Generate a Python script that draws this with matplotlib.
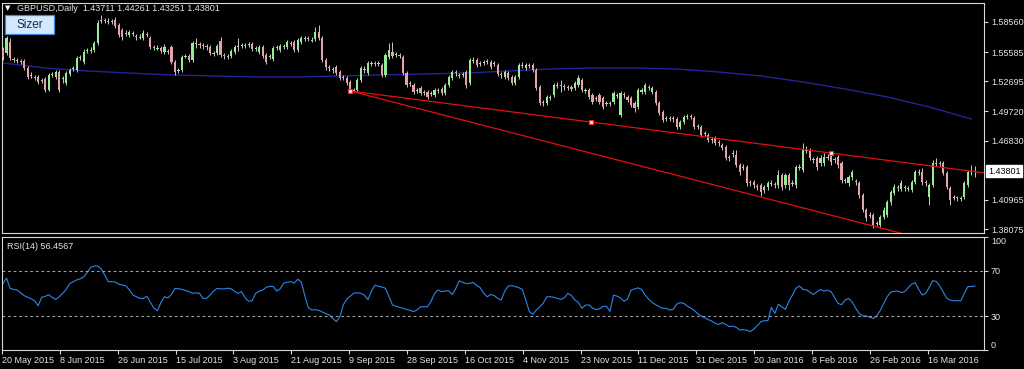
import numpy as np
import matplotlib
matplotlib.use('Agg')
import matplotlib.pyplot as plt
from matplotlib.transforms import blended_transform_factory
from matplotlib.patches import Rectangle

plt.rcParams['font.family'] = ['Liberation Sans', 'DejaVu Sans']

# ---------------- data (GBPUSD daily) ----------------
opens = [
1.5579,1.5549,1.5658,1.5490,1.5480,1.5470,1.5470,1.5401,1.5322,1.5312,
1.5312,1.5272,1.5292,1.5183,1.5332,1.5312,1.5361,1.5292,1.5252,1.5341,
1.5391,1.5381,1.5500,1.5460,1.5569,1.5569,1.5579,1.5648,1.5866,1.5876,
1.5856,1.5866,1.5876,1.5827,1.5777,1.5737,1.5728,1.5747,1.5718,1.5698,
1.5698,1.5737,1.5698,1.5609,1.5589,1.5599,1.5559,1.5569,1.5609,1.5460,
1.5371,1.5381,1.5510,1.5520,1.5480,1.5638,1.5638,1.5629,1.5619,1.5609,
1.5549,1.5549,1.5668,1.5530,1.5520,1.5520,1.5559,1.5609,1.5619,1.5629,
1.5629,1.5638,1.5589,1.5559,1.5609,1.5530,1.5510,1.5490,1.5599,1.5579,
1.5619,1.5609,1.5648,1.5658,1.5579,1.5658,1.5688,1.5698,1.5668,1.5688,
1.5757,1.5698,1.5480,1.5411,1.5391,1.5411,1.5361,1.5302,1.5302,1.5262,
1.5173,1.5183,1.5282,1.5391,1.5351,1.5440,1.5450,1.5440,1.5431,1.5332,
1.5510,1.5559,1.5530,1.5530,1.5510,1.5351,1.5242,1.5233,1.5173,1.5203,
1.5153,1.5163,1.5143,1.5134,1.5183,1.5193,1.5153,1.5233,1.5302,1.5361,
1.5332,1.5332,1.5361,1.5252,1.5470,1.5480,1.5440,1.5450,1.5460,1.5460,
1.5440,1.5431,1.5341,1.5312,1.5351,1.5312,1.5252,1.5312,1.5421,1.5401,
1.5431,1.5431,1.5381,1.5213,1.5064,1.5054,1.5104,1.5134,1.5223,1.5233,
1.5223,1.5213,1.5213,1.5203,1.5233,1.5282,1.5173,1.5183,1.5134,1.5094,
1.5134,1.5104,1.5044,1.5054,1.5064,1.5124,1.4936,1.5143,1.5114,1.5104,
1.5054,1.5015,1.5163,1.5163,1.5213,1.5163,1.5163,1.5054,1.4965,1.4896,
1.4906,1.4906,1.4896,1.4817,1.4866,1.4916,1.4926,1.4906,1.4817,1.4817,
1.4747,1.4738,1.4698,1.4708,1.4668,1.4639,1.4619,1.4520,1.4549,1.4540,
1.4441,1.4411,1.4421,1.4272,1.4272,1.4233,1.4243,1.4193,1.4223,1.4252,
1.4252,1.4243,1.4342,1.4243,1.4342,1.4252,1.4243,1.4411,1.4391,1.4579,
1.4589,1.4500,1.4510,1.4460,1.4460,1.4510,1.4540,1.4500,1.4520,1.4460,
1.4282,1.4262,1.4322,1.4282,1.4262,1.4144,1.3995,1.3936,1.3946,1.3856,
1.3847,1.3926,1.3946,1.4074,1.4163,1.4223,1.4203,1.4223,1.4203,1.4193,
1.4272,1.4361,1.4371,1.4272,1.4124,1.4243,1.4450,1.4460,1.4460,1.4361,
1.4213,1.4114,1.4124,1.4104,1.4124,1.4243,1.4381,1.43711]

highs = [
1.5609,1.5718,1.5698,1.5510,1.5500,1.5490,1.5490,1.5421,1.5361,1.5332,
1.5332,1.5302,1.5312,1.5351,1.5361,1.5381,1.5381,1.5322,1.5371,1.5401,
1.5421,1.5520,1.5530,1.5589,1.5599,1.5609,1.5668,1.5876,1.5926,1.5896,
1.5896,1.5886,1.5906,1.5846,1.5797,1.5777,1.5777,1.5767,1.5737,1.5737,
1.5777,1.5757,1.5718,1.5629,1.5629,1.5619,1.5638,1.5589,1.5629,1.5480,
1.5401,1.5530,1.5539,1.5539,1.5668,1.5698,1.5658,1.5648,1.5638,1.5629,
1.5569,1.5638,1.5708,1.5549,1.5539,1.5589,1.5629,1.5698,1.5648,1.5648,
1.5658,1.5658,1.5619,1.5629,1.5629,1.5549,1.5539,1.5619,1.5629,1.5638,
1.5638,1.5678,1.5668,1.5678,1.5698,1.5718,1.5718,1.5718,1.5708,1.5807,
1.5827,1.5718,1.5500,1.5431,1.5411,1.5431,1.5381,1.5332,1.5322,1.5282,
1.5203,1.5302,1.5421,1.5421,1.5470,1.5470,1.5470,1.5470,1.5450,1.5549,
1.5648,1.5658,1.5559,1.5549,1.5530,1.5371,1.5272,1.5252,1.5203,1.5223,
1.5183,1.5183,1.5173,1.5203,1.5203,1.5213,1.5252,1.5332,1.5381,1.5381,
1.5351,1.5361,1.5381,1.5500,1.5510,1.5500,1.5470,1.5480,1.5490,1.5480,
1.5470,1.5450,1.5361,1.5381,1.5371,1.5332,1.5332,1.5450,1.5460,1.5450,
1.5450,1.5450,1.5401,1.5233,1.5084,1.5134,1.5134,1.5252,1.5262,1.5282,
1.5242,1.5233,1.5233,1.5272,1.5332,1.5302,1.5203,1.5203,1.5153,1.5124,
1.5153,1.5124,1.5074,1.5074,1.5173,1.5153,1.5173,1.5163,1.5134,1.5124,
1.5074,1.5203,1.5203,1.5252,1.5233,1.5223,1.5183,1.5074,1.4985,1.4926,
1.4926,1.4926,1.4916,1.4886,1.4936,1.4945,1.4945,1.4926,1.4846,1.4837,
1.4777,1.4757,1.4718,1.4728,1.4688,1.4658,1.4639,1.4540,1.4589,1.4589,
1.4460,1.4450,1.4441,1.4292,1.4292,1.4252,1.4262,1.4243,1.4282,1.4292,
1.4272,1.4391,1.4361,1.4361,1.4361,1.4292,1.4441,1.4450,1.4658,1.4629,
1.4609,1.4520,1.4530,1.4540,1.4559,1.4549,1.4559,1.4520,1.4540,1.4480,
1.4312,1.4342,1.4391,1.4302,1.4282,1.4163,1.4015,1.3975,1.3965,1.3886,
1.3946,1.4025,1.4094,1.4193,1.4252,1.4243,1.4292,1.4243,1.4233,1.4292,
1.4391,1.4401,1.4411,1.4292,1.4262,1.4490,1.4510,1.4480,1.4480,1.4381,
1.4233,1.4144,1.4134,1.4134,1.4282,1.4391,1.4441,1.44261]

lows = [
1.5480,1.5530,1.5480,1.5460,1.5450,1.5440,1.5381,1.5292,1.5302,1.5282,
1.5242,1.5252,1.5163,1.5173,1.5312,1.5292,1.5163,1.5252,1.5233,1.5322,
1.5371,1.5361,1.5480,1.5440,1.5549,1.5549,1.5559,1.5629,1.5846,1.5846,
1.5836,1.5836,1.5797,1.5708,1.5678,1.5718,1.5708,1.5718,1.5678,1.5688,
1.5678,1.5708,1.5589,1.5579,1.5579,1.5549,1.5539,1.5539,1.5440,1.5332,
1.5351,1.5361,1.5500,1.5460,1.5460,1.5599,1.5599,1.5589,1.5579,1.5530,
1.5520,1.5530,1.5510,1.5490,1.5490,1.5500,1.5539,1.5569,1.5599,1.5599,
1.5609,1.5569,1.5569,1.5539,1.5500,1.5440,1.5490,1.5470,1.5579,1.5559,
1.5589,1.5589,1.5619,1.5559,1.5559,1.5638,1.5668,1.5668,1.5658,1.5668,
1.5678,1.5460,1.5381,1.5371,1.5351,1.5332,1.5282,1.5282,1.5233,1.5173,
1.5163,1.5163,1.5262,1.5351,1.5332,1.5421,1.5421,1.5421,1.5312,1.5312,
1.5490,1.5500,1.5510,1.5500,1.5332,1.5213,1.5223,1.5143,1.5153,1.5134,
1.5134,1.5094,1.5124,1.5114,1.5153,1.5134,1.5134,1.5213,1.5282,1.5322,
1.5302,1.5312,1.5203,1.5233,1.5450,1.5411,1.5421,1.5431,1.5440,1.5391,
1.5421,1.5322,1.5302,1.5292,1.5282,1.5233,1.5233,1.5292,1.5401,1.5381,
1.5401,1.5361,1.5183,1.5035,1.5025,1.5035,1.5084,1.5114,1.5203,1.5163,
1.5183,1.5183,1.5173,1.5183,1.5213,1.5163,1.5153,1.5094,1.5044,1.5074,
1.5044,1.4995,1.5025,1.5025,1.5044,1.5104,1.4916,1.5104,1.5064,1.5015,
1.4965,1.4995,1.5143,1.5143,1.5183,1.5143,1.5035,1.4936,1.4866,1.4876,
1.4876,1.4866,1.4797,1.4797,1.4846,1.4896,1.4896,1.4797,1.4797,1.4718,
1.4728,1.4668,1.4658,1.4639,1.4629,1.4589,1.4490,1.4480,1.4520,1.4421,
1.4342,1.4391,1.4233,1.4233,1.4213,1.4193,1.4134,1.4163,1.4193,1.4233,
1.4213,1.4213,1.4193,1.4213,1.4193,1.4233,1.4213,1.4391,1.4371,1.4559,
1.4490,1.4460,1.4391,1.4431,1.4431,1.4490,1.4441,1.4460,1.4411,1.4262,
1.4262,1.4233,1.4292,1.4243,1.4114,1.3975,1.3886,1.3916,1.3817,1.3837,
1.3827,1.3906,1.3926,1.4045,1.4144,1.4183,1.4183,1.4183,1.4183,1.4173,
1.4252,1.4342,1.4243,1.4233,1.4045,1.4223,1.4431,1.4431,1.4342,1.4203,
1.4045,1.4094,1.4084,1.4084,1.4104,1.4223,1.4342,1.43251]

closes = [
1.5510,1.5698,1.5500,1.5480,1.5470,1.5460,1.5401,1.5312,1.5332,1.5302,
1.5262,1.5282,1.5183,1.5332,1.5341,1.5361,1.5183,1.5302,1.5351,1.5381,
1.5401,1.5500,1.5510,1.5559,1.5579,1.5579,1.5648,1.5846,1.5876,1.5866,
1.5866,1.5856,1.5817,1.5728,1.5708,1.5747,1.5757,1.5737,1.5708,1.5708,
1.5747,1.5728,1.5609,1.5599,1.5599,1.5569,1.5609,1.5559,1.5460,1.5361,
1.5381,1.5510,1.5520,1.5480,1.5648,1.5648,1.5629,1.5619,1.5609,1.5549,
1.5539,1.5619,1.5530,1.5520,1.5510,1.5569,1.5609,1.5619,1.5629,1.5619,
1.5638,1.5589,1.5599,1.5609,1.5520,1.5460,1.5520,1.5599,1.5609,1.5619,
1.5609,1.5658,1.5638,1.5579,1.5678,1.5698,1.5698,1.5688,1.5678,1.5757,
1.5698,1.5480,1.5411,1.5401,1.5381,1.5351,1.5302,1.5312,1.5252,1.5163,
1.5183,1.5282,1.5401,1.5381,1.5450,1.5450,1.5440,1.5450,1.5332,1.5530,
1.5579,1.5520,1.5539,1.5520,1.5351,1.5233,1.5252,1.5163,1.5183,1.5153,
1.5163,1.5114,1.5153,1.5183,1.5173,1.5153,1.5233,1.5312,1.5361,1.5351,
1.5322,1.5341,1.5233,1.5480,1.5480,1.5431,1.5450,1.5460,1.5470,1.5411,
1.5450,1.5341,1.5332,1.5361,1.5302,1.5252,1.5312,1.5431,1.5431,1.5431,
1.5421,1.5381,1.5203,1.5054,1.5054,1.5114,1.5114,1.5233,1.5233,1.5223,
1.5213,1.5203,1.5193,1.5252,1.5302,1.5183,1.5183,1.5114,1.5064,1.5104,
1.5064,1.5015,1.5054,1.5044,1.5153,1.5134,1.5153,1.5134,1.5084,1.5035,
1.5005,1.5183,1.5183,1.5233,1.5203,1.5203,1.5054,1.4955,1.4886,1.4906,
1.4896,1.4896,1.4817,1.4866,1.4916,1.4926,1.4916,1.4817,1.4827,1.4738,
1.4757,1.4688,1.4688,1.4658,1.4658,1.4609,1.4510,1.4510,1.4559,1.4441,
1.4371,1.4421,1.4262,1.4262,1.4243,1.4223,1.4173,1.4223,1.4262,1.4262,
1.4243,1.4342,1.4223,1.4342,1.4243,1.4262,1.4421,1.4421,1.4589,1.4589,
1.4510,1.4490,1.4421,1.4510,1.4520,1.4520,1.4470,1.4490,1.4441,1.4292,
1.4292,1.4322,1.4371,1.4272,1.4144,1.3995,1.3916,1.3946,1.3847,1.3866,
1.3926,1.3995,1.4074,1.4173,1.4223,1.4213,1.4262,1.4213,1.4213,1.4272,
1.4371,1.4371,1.4272,1.4262,1.4243,1.4460,1.4460,1.4450,1.4361,1.4223,
1.4094,1.4124,1.4114,1.4114,1.4262,1.4371,1.4371,1.43801]

rsi14 = [
58.8,63.5,54.4,53.5,52.9,50.5,48.0,46.5,45.3,43.5,
39.0,46.5,47.3,48.8,46.5,44.6,47.0,50.0,53.5,58.5,
60.3,61.8,62.8,64.5,68.5,73.0,74.1,74.1,71.5,66.0,
60.3,60.3,60.0,58.0,57.4,56.5,53.2,48.5,47.0,45.6,
45.6,47.5,42.0,37.0,34.7,42.0,47.0,46.0,49.0,54.4,
54.0,53.5,52.5,51.6,50.0,50.5,50.0,45.6,45.6,48.5,
52.0,54.3,54.0,53.9,54.6,54.0,51.7,50.0,51.5,46.0,
43.0,43.5,50.0,52.0,52.9,55.3,56.2,56.0,52.0,54.0,
59.0,59.8,60.3,59.0,62.5,60.0,48.0,37.5,35.3,35.6,
35.0,33.5,32.2,30.9,28.0,25.0,29.4,40.0,45.0,47.5,
50.3,50.5,50.0,48.3,44.5,52.0,57.2,56.2,55.5,54.5,
47.0,39.7,38.7,37.6,36.9,35.8,35.0,33.9,35.5,38.0,
38.2,38.2,43.0,50.0,53.0,51.5,52.0,52.3,49.0,54.0,
61.0,59.8,58.5,59.0,59.5,57.0,55.0,50.0,47.0,49.0,
48.0,45.5,44.1,52.0,56.5,56.8,56.0,55.0,53.5,44.0,
34.0,31.5,35.3,38.0,41.5,47.0,47.0,46.5,45.5,44.7,
46.0,50.0,48.0,44.1,42.0,36.8,39.5,39.8,37.0,35.7,
36.4,38.5,38.6,34.0,48.5,47.5,46.0,43.0,45.0,52.9,
53.8,54.8,53.5,48.5,45.0,42.0,40.0,38.3,36.8,36.8,
35.3,35.8,40.5,41.8,41.2,38.8,37.0,35.0,32.0,30.0,
28.5,26.8,25.5,23.5,22.5,24.1,22.6,20.6,21.0,20.0,
17.6,18.0,17.5,16.2,18.5,21.5,24.9,25.9,25.9,37.6,
32.4,40.5,38.0,35.9,43.0,48.5,54.5,56.5,53.5,53.0,
51.0,49.0,51.5,53.3,52.0,52.8,51.5,46.5,41.2,40.0,
44.0,45.5,42.5,37.0,32.5,30.0,30.0,29.0,27.9,30.0,
34.7,41.0,47.0,51.0,51.8,52.0,50.8,51.5,55.0,58.2,
59.4,53.5,48.5,50.0,55.5,61.2,60.5,56.5,51.0,45.6,
44.0,43.5,43.5,43.5,50.0,55.9,56.0,56.4567]

# moving average, sampled every ma_step bars
ma_step = 12
ma_values = [1.5450,1.5401,1.5371,1.5351,1.5332,1.5322,1.5312,1.5312,1.5322,1.5332,
             1.5342,1.5351,1.5371,1.5391,1.5401,1.5401,1.5391,1.5361,1.5322,1.5262,
             1.5193,1.5114,1.5015,1.4896]

# trend lines: (bar index, price) anchors
upper_line = [(99, 1.5173), (236, 1.4559)]
lower_line = [(99, 1.5173), (248, 1.3837)]

price_ticks = [1.58560, 1.55585, 1.52695, 1.49720, 1.46830, 1.40965, 1.38075]
date_labels = ["20 May 2015", "8 Jun 2015", "26 Jun 2015", "15 Jul 2015", "3 Aug 2015",
               "21 Aug 2015", "9 Sep 2015", "28 Sep 2015", "16 Oct 2015", "4 Nov 2015",
               "23 Nov 2015", "11 Dec 2015", "31 Dec 2015", "20 Jan 2016", "8 Feb 2016",
               "26 Feb 2016", "16 Mar 2016"]
rsi_levels = [30, 70]
header = "GBPUSD,Daily  1.43711 1.44261 1.43251 1.43801"
rsi_title = "RSI(14) 56.4567"

# ---------------- figure ----------------
W, H = 1024, 369
fig = plt.figure(figsize=(W / 100, H / 100), dpi=100, facecolor='black')

def px_axes(l, t, r, b):
    a = fig.add_axes([l / W, 1 - b / H, (r - l) / W, (b - t) / H])
    a.set_facecolor('black')
    for s in a.spines.values():
        s.set_color('#d8d8d8')
        s.set_linewidth(0.8)
    return a

ax = px_axes(2, 3, 984, 233)
axr = px_axes(2, 236.7, 984, 350)

o = np.array(opens); h = np.array(highs); l = np.array(lows); c = np.array(closes)
n = len(c)
x = np.arange(n)
xlim = (-0.3, n - 1 + 2.6)

TXT = '#e4e4e4'
FS = 6.5

# candles
bull = c >= o
ax.vlines(x, l, h, color='#c8c8c8', linewidth=0.7, zorder=2)
body_h = np.where(np.abs(c - o) < 0.00008, 0.00008, c - o)
ax.bar(x, body_h, bottom=o, width=0.62,
       color=np.where(bull, '#96ec96', '#eaa0a8'), linewidth=0, zorder=3)

# moving average
ma_x = np.arange(len(ma_values)) * ma_step
ax.plot(ma_x, ma_values, color='#23239a', linewidth=1.0, zorder=1)

# trend lines (rays to the right)
for line in (upper_line, lower_line):
    (x0, y0), (x1, y1) = line
    slope = (y1 - y0) / (x1 - x0)
    xe = xlim[1]
    ax.plot([x0, xe], [y0, y0 + slope * (xe - x0)], color='#e01010', linewidth=0.9, zorder=4)
(ux0, uy0), (ux1, uy1) = upper_line
ax.plot([ux0, (ux0 + ux1) / 2, ux1], [uy0, (uy0 + uy1) / 2, uy1], linestyle='none',
        marker='s', markersize=3.2, markerfacecolor='#ffe0e0', markeredgecolor='#ff2020',
        markeredgewidth=0.8, zorder=5)

ax.set_xlim(*xlim)
ax.set_ylim(1.37680, 1.60440)
ax.set_xticks([])
ax.yaxis.tick_right()
ax.set_yticks(price_ticks)
ax.set_yticklabels([f"{v:.5f}" for v in price_ticks])
ax.tick_params(axis='y', colors='#d8d8d8', labelcolor=TXT, labelsize=FS,
               direction='out', length=3, width=0.8, pad=2)

# current price box
trans = blended_transform_factory(ax.transAxes, ax.transData)
ax.text(1.0 + 4 / 982, c[-1], f"{c[-1]:.5f}", transform=trans, ha='left', va='center',
        fontsize=FS, color='black',
        bbox=dict(boxstyle='square,pad=0.18', facecolor='white', edgecolor='white'),
        clip_on=False, zorder=10)

# ---------------- RSI panel ----------------
axr.plot(x, rsi14, color='#2a86e8', linewidth=0.8)
for lv in rsi_levels:
    axr.axhline(lv, color='#a0a0a0', linewidth=0.8, linestyle=(0, (2.5, 2.5)))
axr.set_xlim(*xlim)
axr.set_ylim(0, 100)
axr.yaxis.tick_right()
axr.set_yticks([0, 30, 70, 100])
axr.set_yticklabels(['0', '30', '70', '100'])
axr.tick_params(axis='y', colors='#d8d8d8', labelcolor=TXT, labelsize=FS,
                direction='out', length=3, width=0.8, pad=2)
ylabs = axr.get_yticklabels()
ylabs[0].set_va('bottom')
ylabs[-1].set_va('top')

tick_step = 16.49
axr.set_xticks([k * tick_step - 0.28 for k in range(len(date_labels))])
axr.set_xticklabels(date_labels)
for lab in axr.get_xticklabels():
    lab.set_ha('left')
axr.tick_params(axis='x', colors='#d8d8d8', labelcolor=TXT, labelsize=FS,
                direction='out', length=3, width=0.8, pad=1.5)

axr.text(5 / 982, 0.95, rsi_title, transform=axr.transAxes, ha='left', va='top',
         fontsize=FS, color=TXT)

# ---------------- header & button ----------------
fig.text(5 / W, 1 - 8.5 / H, '\u25bc', fontsize=5, color='white', ha='left', va='center',
         family=['DejaVu Sans'])
fig.text(17 / W, 1 - 8.5 / H, header, fontsize=FS, color=TXT, ha='left', va='center')
fig.patches.append(Rectangle((5 / W, 1 - 34 / H), 49 / W, 19 / H, transform=fig.transFigure,
                             facecolor='#d3e9fb', edgecolor='#3f86d6', linewidth=0.9, zorder=5))
fig.text(29.5 / W, 1 - 24.5 / H, 'Sizer', fontsize=8.5, color='#1a2a44', ha='center',
         va='center', zorder=6)

fig.savefig('out.png', dpi=100, facecolor='black')
